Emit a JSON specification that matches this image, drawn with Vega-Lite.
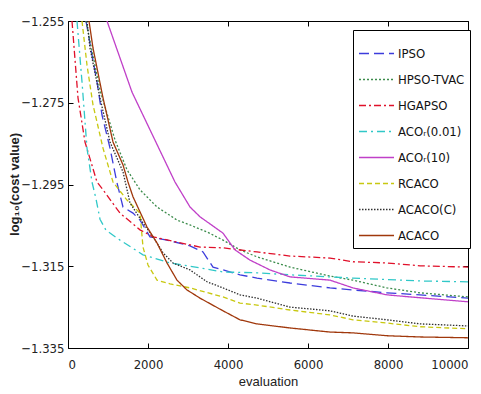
{
  "$schema": "https://vega.github.io/schema/vega-lite/v6.json",
  "width": 400,
  "height": 327,
  "autosize": {"type": "none"},
  "padding": {"left": 68, "top": 21, "right": 13, "bottom": 46},
  "background": "white",
  "config": {
    "view": {"stroke": "black", "strokeWidth": 1},
    "font": "DejaVu Sans Condensed, Liberation Sans, sans-serif",
    "axis": {"labelFont": "DejaVu Sans Condensed, Liberation Sans, sans-serif", "titleFont": "Liberation Sans, sans-serif", "labelColor": "#222", "titleColor": "#222", "grid": false, "domainColor": "black", "tickColor": "black"},
    "legend": {"labelFont": "DejaVu Sans Condensed, Liberation Sans, sans-serif"}
  },
  "data": {"values": [
    {"s":"IPSO","x":450,"y":-1.255},{"s":"IPSO","x":600,"y":-1.2633},{"s":"IPSO","x":725,"y":-1.2699},{"s":"IPSO","x":850,"y":-1.2780},{"s":"IPSO","x":1050,"y":-1.2861},{"s":"IPSO","x":1225,"y":-1.2946},{"s":"IPSO","x":1375,"y":-1.3005},{"s":"IPSO","x":1625,"y":-1.3020},{"s":"IPSO","x":1800,"y":-1.3037},{"s":"IPSO","x":2050,"y":-1.3078},{"s":"IPSO","x":2475,"y":-1.3086},{"s":"IPSO","x":3050,"y":-1.3100},{"s":"IPSO","x":3375,"y":-1.3115},{"s":"IPSO","x":3475,"y":-1.3130},{"s":"IPSO","x":3625,"y":-1.3152},{"s":"IPSO","x":3875,"y":-1.3159},{"s":"IPSO","x":4300,"y":-1.3171},{"s":"IPSO","x":4725,"y":-1.3179},{"s":"IPSO","x":5550,"y":-1.3191},{"s":"IPSO","x":6550,"y":-1.3203},{"s":"IPSO","x":7125,"y":-1.3208},{"s":"IPSO","x":7975,"y":-1.3215},{"s":"IPSO","x":8800,"y":-1.3220},{"s":"IPSO","x":10000,"y":-1.3228},
    {"s":"HPSO-TVAC","x":450,"y":-1.255},{"s":"HPSO-TVAC","x":800,"y":-1.2719},{"s":"HPSO-TVAC","x":1175,"y":-1.2841},{"s":"HPSO-TVAC","x":1475,"y":-1.2914},{"s":"HPSO-TVAC","x":1800,"y":-1.2963},{"s":"HPSO-TVAC","x":2225,"y":-1.3005},{"s":"HPSO-TVAC","x":2725,"y":-1.3037},{"s":"HPSO-TVAC","x":3050,"y":-1.3049},{"s":"HPSO-TVAC","x":3475,"y":-1.3066},{"s":"HPSO-TVAC","x":3875,"y":-1.3086},{"s":"HPSO-TVAC","x":4300,"y":-1.3110},{"s":"HPSO-TVAC","x":4725,"y":-1.3127},{"s":"HPSO-TVAC","x":5550,"y":-1.3152},{"s":"HPSO-TVAC","x":6550,"y":-1.3174},{"s":"HPSO-TVAC","x":7125,"y":-1.3184},{"s":"HPSO-TVAC","x":7975,"y":-1.3203},{"s":"HPSO-TVAC","x":8800,"y":-1.3215},{"s":"HPSO-TVAC","x":10000,"y":-1.3225},
    {"s":"HGAPSO","x":100,"y":-1.255},{"s":"HGAPSO","x":250,"y":-1.2738},{"s":"HGAPSO","x":425,"y":-1.2846},{"s":"HGAPSO","x":725,"y":-1.2944},{"s":"HGAPSO","x":875,"y":-1.2963},{"s":"HGAPSO","x":1300,"y":-1.3020},{"s":"HGAPSO","x":1800,"y":-1.3061},{"s":"HGAPSO","x":2125,"y":-1.3078},{"s":"HGAPSO","x":2725,"y":-1.3091},{"s":"HGAPSO","x":3300,"y":-1.3103},{"s":"HGAPSO","x":3875,"y":-1.3105},{"s":"HGAPSO","x":4725,"y":-1.3115},{"s":"HGAPSO","x":5550,"y":-1.3125},{"s":"HGAPSO","x":6550,"y":-1.3130},{"s":"HGAPSO","x":7125,"y":-1.3139},{"s":"HGAPSO","x":7975,"y":-1.3142},{"s":"HGAPSO","x":8800,"y":-1.3149},{"s":"HGAPSO","x":10000,"y":-1.3152},
    {"s":"ACOᵣ(0.01)","x":225,"y":-1.255},{"s":"ACOᵣ(0.01)","x":350,"y":-1.2699},{"s":"ACOᵣ(0.01)","x":475,"y":-1.2861},{"s":"ACOᵣ(0.01)","x":600,"y":-1.2944},{"s":"ACOᵣ(0.01)","x":700,"y":-1.2985},{"s":"ACOᵣ(0.01)","x":800,"y":-1.3035},{"s":"ACOᵣ(0.01)","x":950,"y":-1.3062},{"s":"ACOᵣ(0.01)","x":1300,"y":-1.3086},{"s":"ACOᵣ(0.01)","x":1875,"y":-1.3122},{"s":"ACOᵣ(0.01)","x":2550,"y":-1.3142},{"s":"ACOᵣ(0.01)","x":3300,"y":-1.3154},{"s":"ACOᵣ(0.01)","x":3875,"y":-1.3164},{"s":"ACOᵣ(0.01)","x":4725,"y":-1.3166},{"s":"ACOᵣ(0.01)","x":5550,"y":-1.3171},{"s":"ACOᵣ(0.01)","x":6550,"y":-1.3176},{"s":"ACOᵣ(0.01)","x":7125,"y":-1.3179},{"s":"ACOᵣ(0.01)","x":8800,"y":-1.3186},{"s":"ACOᵣ(0.01)","x":10000,"y":-1.3188},
    {"s":"ACOᵣ(10)","x":975,"y":-1.255},{"s":"ACOᵣ(10)","x":1600,"y":-1.2724},{"s":"ACOᵣ(10)","x":2675,"y":-1.2944},{"s":"ACOᵣ(10)","x":3050,"y":-1.3005},{"s":"ACOᵣ(10)","x":3300,"y":-1.3029},{"s":"ACOᵣ(10)","x":3875,"y":-1.3069},{"s":"ACOᵣ(10)","x":4175,"y":-1.3110},{"s":"ACOᵣ(10)","x":4550,"y":-1.3135},{"s":"ACOᵣ(10)","x":5050,"y":-1.3159},{"s":"ACOᵣ(10)","x":5550,"y":-1.3176},{"s":"ACOᵣ(10)","x":6550,"y":-1.3184},{"s":"ACOᵣ(10)","x":7125,"y":-1.3203},{"s":"ACOᵣ(10)","x":7975,"y":-1.3220},{"s":"ACOᵣ(10)","x":8550,"y":-1.3225},{"s":"ACOᵣ(10)","x":10000,"y":-1.3237},
    {"s":"RCACO","x":350,"y":-1.255},{"s":"RCACO","x":475,"y":-1.2658},{"s":"RCACO","x":625,"y":-1.2755},{"s":"RCACO","x":875,"y":-1.2861},{"s":"RCACO","x":1125,"y":-1.2944},{"s":"RCACO","x":1475,"y":-1.2988},{"s":"RCACO","x":1800,"y":-1.3020},{"s":"RCACO","x":1875,"y":-1.3103},{"s":"RCACO","x":2000,"y":-1.3147},{"s":"RCACO","x":2225,"y":-1.3184},{"s":"RCACO","x":2550,"y":-1.3193},{"s":"RCACO","x":3050,"y":-1.3203},{"s":"RCACO","x":3875,"y":-1.3225},{"s":"RCACO","x":4300,"y":-1.3240},{"s":"RCACO","x":4725,"y":-1.3245},{"s":"RCACO","x":5550,"y":-1.3257},{"s":"RCACO","x":6550,"y":-1.3269},{"s":"RCACO","x":7125,"y":-1.3281},{"s":"RCACO","x":7975,"y":-1.3289},{"s":"RCACO","x":8800,"y":-1.3298},{"s":"RCACO","x":10000,"y":-1.3303},
    {"s":"ACACO(C)","x":475,"y":-1.255},{"s":"ACACO(C)","x":550,"y":-1.2616},{"s":"ACACO(C)","x":800,"y":-1.2738},{"s":"ACACO(C)","x":1050,"y":-1.2846},{"s":"ACACO(C)","x":1375,"y":-1.2919},{"s":"ACACO(C)","x":1550,"y":-1.2995},{"s":"ACACO(C)","x":1875,"y":-1.3044},{"s":"ACACO(C)","x":2125,"y":-1.3078},{"s":"ACACO(C)","x":2375,"y":-1.3117},{"s":"ACACO(C)","x":2625,"y":-1.3142},{"s":"ACACO(C)","x":3050,"y":-1.3159},{"s":"ACACO(C)","x":3475,"y":-1.3188},{"s":"ACACO(C)","x":3875,"y":-1.3203},{"s":"ACACO(C)","x":4300,"y":-1.3220},{"s":"ACACO(C)","x":4725,"y":-1.3228},{"s":"ACACO(C)","x":5550,"y":-1.3250},{"s":"ACACO(C)","x":6550,"y":-1.3259},{"s":"ACACO(C)","x":7125,"y":-1.3272},{"s":"ACACO(C)","x":7975,"y":-1.3281},{"s":"ACACO(C)","x":8800,"y":-1.3291},{"s":"ACACO(C)","x":10000,"y":-1.3296},
    {"s":"ACACO","x":525,"y":-1.255},{"s":"ACACO","x":625,"y":-1.2616},{"s":"ACACO","x":875,"y":-1.2738},{"s":"ACACO","x":1125,"y":-1.2846},{"s":"ACACO","x":1375,"y":-1.2902},{"s":"ACACO","x":1500,"y":-1.2944},{"s":"ACACO","x":1625,"y":-1.2980},{"s":"ACACO","x":1975,"y":-1.3054},{"s":"ACACO","x":2225,"y":-1.3093},{"s":"ACACO","x":2475,"y":-1.3142},{"s":"ACACO","x":2725,"y":-1.3184},{"s":"ACACO","x":2975,"y":-1.3208},{"s":"ACACO","x":3300,"y":-1.3228},{"s":"ACACO","x":3875,"y":-1.3259},{"s":"ACACO","x":4300,"y":-1.3281},{"s":"ACACO","x":4725,"y":-1.3291},{"s":"ACACO","x":5550,"y":-1.3301},{"s":"ACACO","x":6550,"y":-1.3311},{"s":"ACACO","x":7125,"y":-1.3313},{"s":"ACACO","x":7975,"y":-1.3320},{"s":"ACACO","x":8800,"y":-1.3323},{"s":"ACACO","x":10000,"y":-1.3325}
  ]},
  "layer": [
    {
      "mark": {"type": "line", "clip": true, "interpolate": "linear"},
      "encoding": {
        "x": {"field": "x", "type": "quantitative", "scale": {"domain": [0, 10000], "nice": false},
              "axis": {"title": "evaluation", "values": [0,2000,4000,6000,8000,10000], "format": "d", "tickSize": -5, "labelPadding": 15, "labelFontSize": 13, "titleFontSize": 13, "titleFontWeight": "normal", "titlePadding": 4, "domain": false}},
        "y": {"field": "y", "type": "quantitative", "scale": {"domain": [-1.335, -1.255], "nice": false, "zero": false},
              "axis": {"title": "log₁₀(cost value)", "values": [-1.255,-1.275,-1.295,-1.315,-1.335], "format": ".3f", "tickSize": -5, "labelPadding": 9, "labelFontSize": 13, "titleFontSize": 13, "titleFontWeight": "bold", "titleX": -47, "titleY": 163, "titleAngle": -90, "titleAlign": "center", "titleBaseline": "bottom", "domain": false}},
        "detail": {"field": "s"},
        "color": {"field": "s", "type": "nominal", "title": null,
          "scale": {"domain": ["IPSO","HPSO-TVAC","HGAPSO","ACOᵣ(0.01)","ACOᵣ(10)","RCACO","ACACO(C)","ACACO"],
                    "range": ["#3c3cdc","#3c8c4c","#e0102a","#30c8c8","#c040c8","#c8c810","#303030","#a0380c"]},
          "legend": {"orient": "none", "legendX": 285, "legendY": 9, "strokeColor": "black", "fillColor": "white", "padding": 5, "labelFontSize": 13, "labelColor": "#111", "symbolType": "stroke", "symbolSize": 1225, "rowPadding": -1, "labelOffset": 3}},
        "strokeDash": {"field": "s", "type": "nominal", "title": null,
          "scale": {"domain": ["IPSO","HPSO-TVAC","HGAPSO","ACOᵣ(0.01)","ACOᵣ(10)","RCACO","ACACO(C)","ACACO"],
                    "range": [[10,5],[2,2],[7,3,2,3],[8,4,2,4],[1,0],[5,3],[1.5,1.5],[1,0]]}},
        "strokeWidth": {"field": "s", "type": "nominal", "title": null,
          "scale": {"domain": ["IPSO","HPSO-TVAC","HGAPSO","ACOᵣ(0.01)","ACOᵣ(10)","RCACO","ACACO(C)","ACACO"],
                    "range": [1.3,1.3,2,1.3,1.2,2,1.8,3.2]}},
        "order": {"field": "x", "type": "quantitative"}
      }
    },
    {
      "mark": {"type": "line", "opacity": 0},
      "encoding": {
        "x": {"field": "x", "type": "quantitative", "axis": {"orient": "top", "title": null, "labels": false, "values": [0,2000,4000,6000,8000,10000], "tickSize": -5, "domain": false}},
        "y": {"field": "y", "type": "quantitative", "axis": {"orient": "right", "title": null, "labels": false, "values": [-1.255,-1.275,-1.295,-1.315,-1.335], "tickSize": -5, "domain": false}},
        "detail": {"field": "s"}
      }
    }
  ],
  "resolve": {"axis": {"x": "independent", "y": "independent"}}
}
